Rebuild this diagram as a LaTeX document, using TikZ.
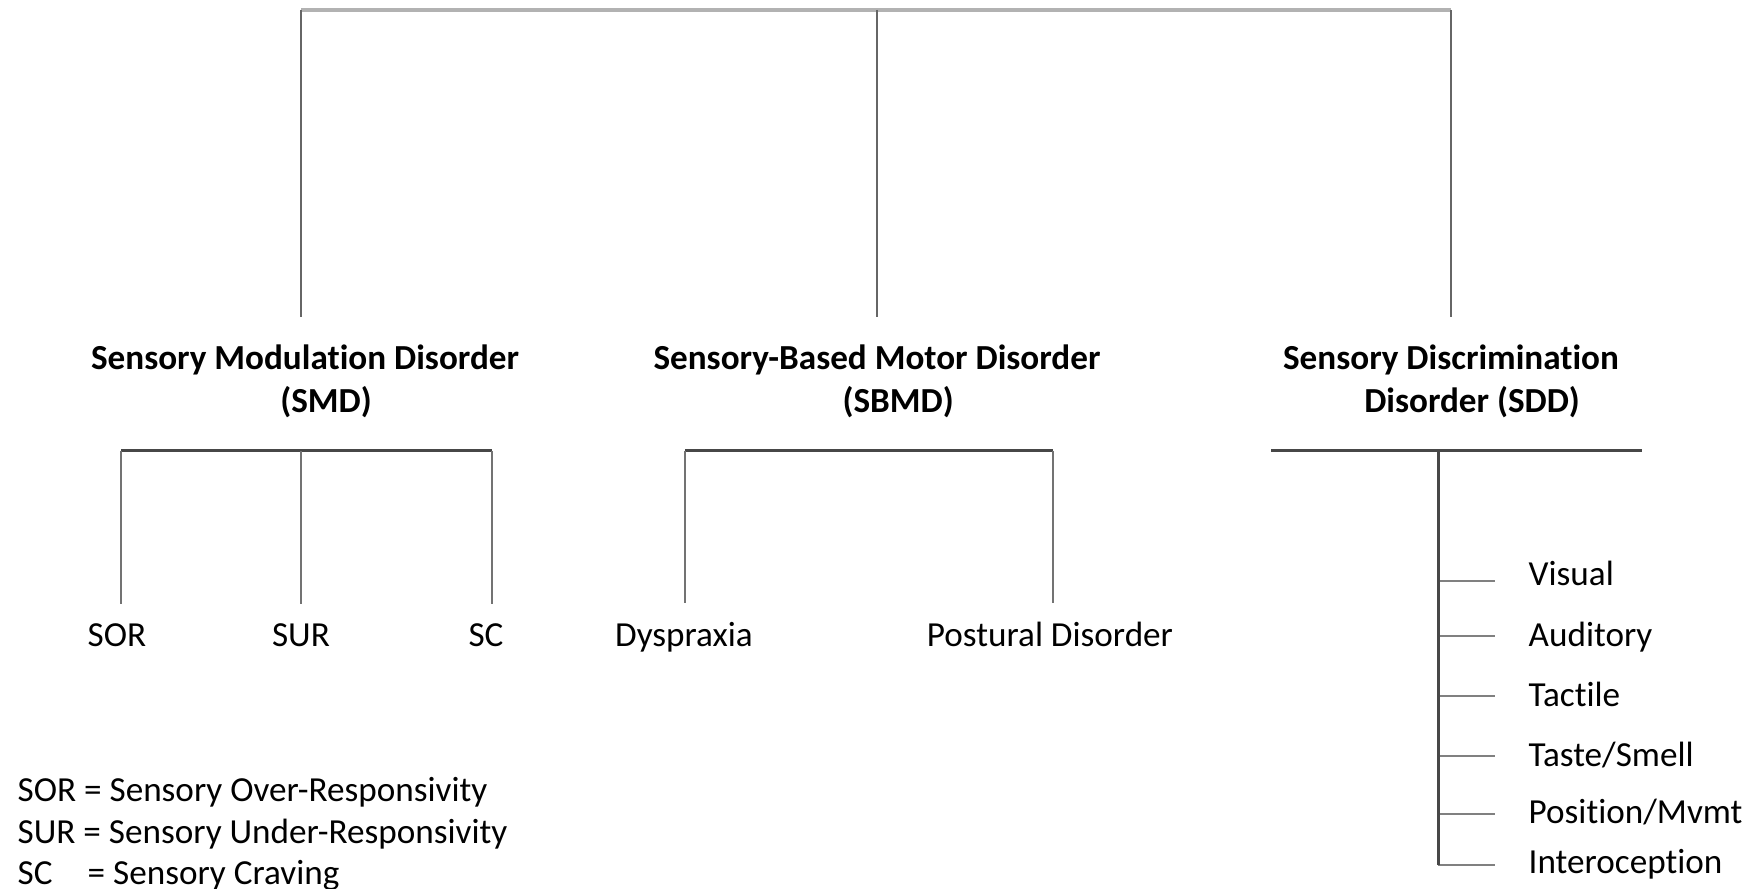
\documentclass[tikz,border=0pt]{standalone}
\usepackage{fontspec}
\setmainfont{Carlito}[Ligatures={NoCommon}]
\usepackage{tikz}

\begin{document}
\begin{tikzpicture}[x=0.01cm,y=-0.01cm,
    lbl/.style={font=\fontsize{10}{11.8}\selectfont, inner sep=0pt},
    head/.style={font=\fontsize{10}{12.2}\selectfont\bfseries, inner sep=0pt, align=center},
    topbar/.style={draw=black!30, line width=1.4pt},
    stem/.style={draw=black!60, line width=0.45pt},
    subbar/.style={draw=black!72, line width=0.85pt},
    sub/.style={draw=black!55, line width=0.6pt},
    tick/.style={draw=black!50, line width=0.6pt}]

    \useasboundingbox (0,0) rectangle (1760,889);

    \node[head] (SMD) at (305,381) {Sensory Modulation Disorder\\\hspace*{12pt}(SMD)};
    \node[head] (SBMD) at (877,381) {Sensory-Based Motor Disorder\\\hspace*{12pt}(SBMD)};
    \node[head] (SDD) at (1451,381) {Sensory Discrimination\\\hspace*{12pt}Disorder (SDD)};

    \coordinate (top1) at (301,10);
    \coordinate (top2) at (877,10);
    \coordinate (top3) at (1451,10);

    \draw[topbar] (top1) -- (top3);
    \path[stem, shorten >=0.27cm]
    (top1) edge (top1 |- SMD.north)
    (top2) edge (top2 |- SBMD.north)
    (top3) edge (top3 |- SDD.north);

    \node[lbl, anchor=base] (SOR) at (117,647) {SOR};
    \node[lbl, anchor=base] (SUR) at (301,647) {SUR};
    \node[lbl, anchor=base] (SC) at (486,647) {SC};
    \node[lbl, anchor=base] (Dys) at (684,647) {Dyspraxia};
    \node[lbl, anchor=base] (Post) at (1050,647) {Postural Disorder};

    \coordinate (smd1) at (121,451);
    \coordinate (smd2) at (301,451);
    \coordinate (smd3) at (492,451);
    \coordinate (sbmd1) at (685,451);
    \coordinate (sbmd2) at (1053,451);

    \draw[subbar] (smd1) -- (smd3);
    \draw[subbar] (sbmd1) -- (sbmd2);
    \path[sub, shorten >=0.19cm]
    (smd1) edge (smd1 |- SOR.north)
    (smd2) edge (smd2 |- SUR.north)
    (smd3) edge (smd3 |- SC.north)
    (sbmd1) edge (sbmd1 |- Dys.north)
    (sbmd2) edge (sbmd2 |- Post.north);

    \coordinate (sddL) at (1271,451);
    \coordinate (sddR) at (1642,451);
    \coordinate (sddT) at (1438,451);
    \draw[subbar] (sddL) -- (sddR);

    \foreach \nm/\txt/\ty/\by in {vis/Visual/581/586, aud/Auditory/636/647,
        tac/Tactile/696/707, tas/{Taste/Smell}/756/767,
        pos/{Position/Mvmt}/814/824, int/Interoception/865/874}{
        \node[lbl, anchor=base west] (\nm) at (1528,\by) {\txt};
        \coordinate (\nm-t) at (1438,\ty);
        \draw[tick, shorten >=0.33cm] (\nm-t) -- (\nm-t -| \nm.west);
    }
    \draw[subbar] (sddT) -- (int-t);

    \node[lbl, anchor=north west, align=left] (key) at (17,777)
    {SOR = Sensory Over-Responsivity\\
     SUR = Sensory Under-Responsivity\\
     \rlap{SC}\hphantom{SOR}\hspace{1pt} = Sensory Craving};

\end{tikzpicture}
\end{document}
